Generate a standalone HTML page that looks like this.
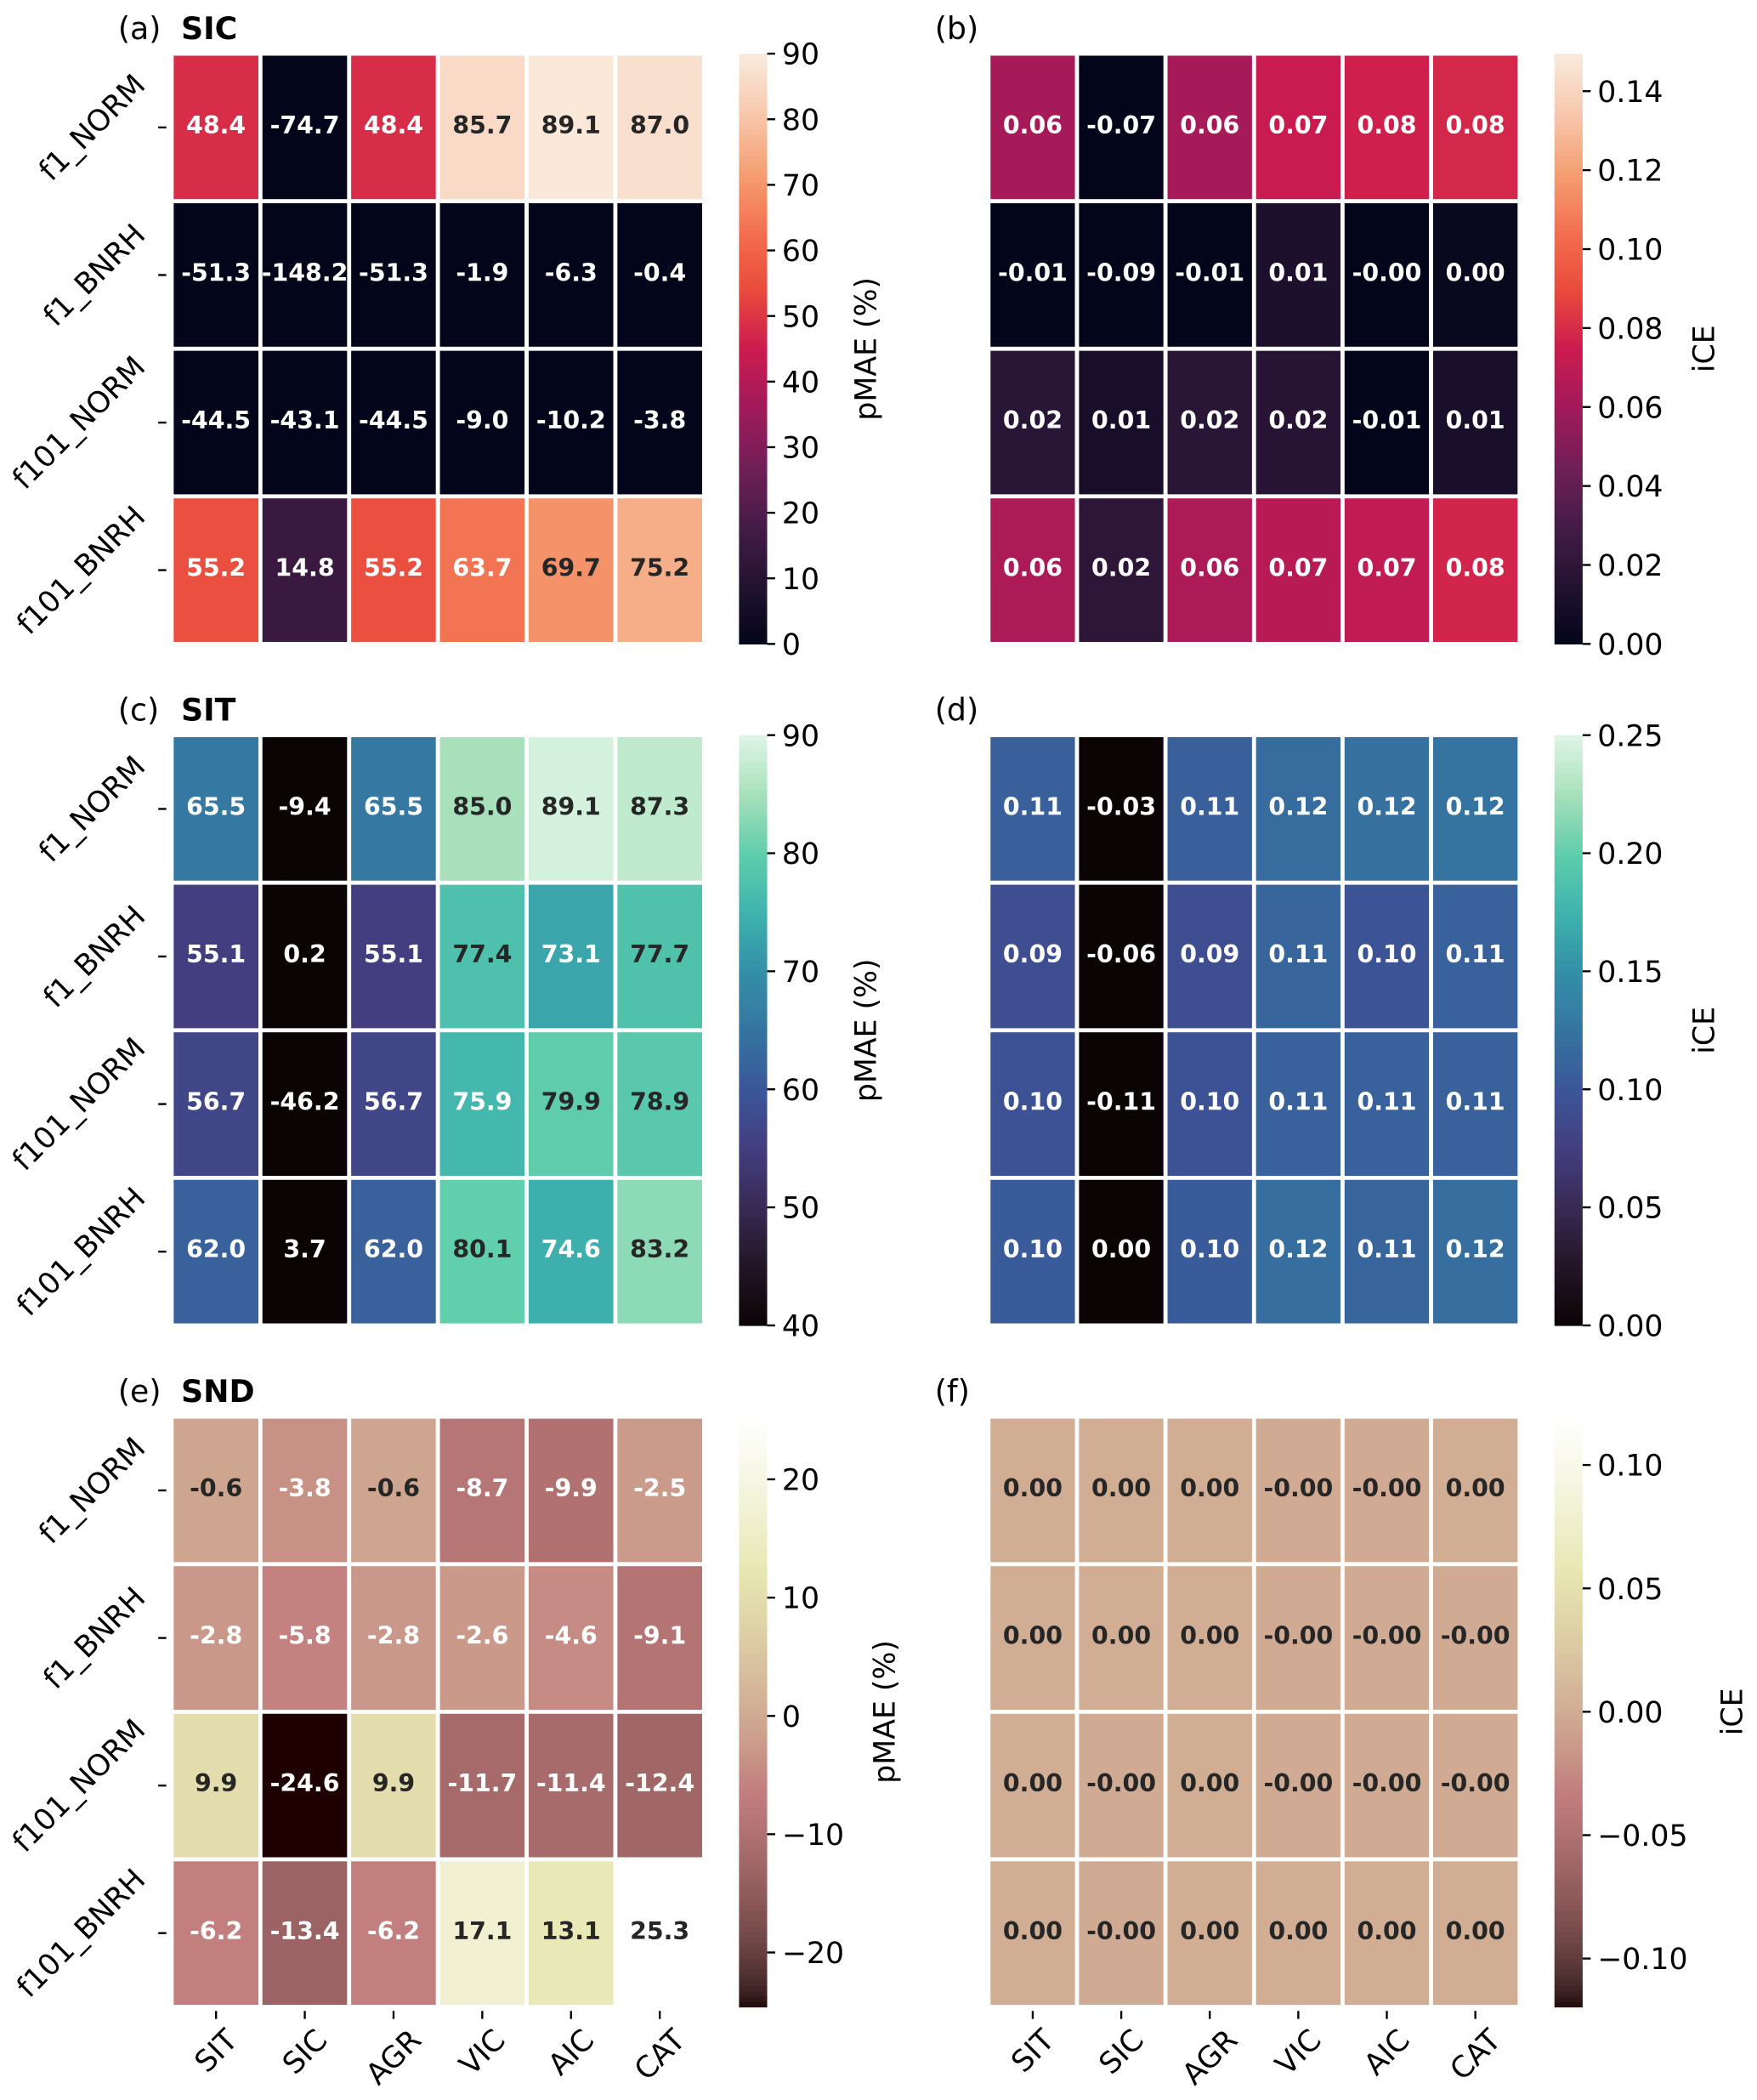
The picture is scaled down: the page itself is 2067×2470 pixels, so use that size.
<!DOCTYPE html>
<html><head><meta charset="utf-8">
<style>
html,body{margin:0;padding:0;background:#fff;}
svg{display:block;font-family:"DejaVu Sans","Liberation Sans",sans-serif;}
</style></head>
<body>
<svg id="fig" width="2067" height="2470" viewBox="0 0 1310 1565.4" xmlns="http://www.w3.org/2000/svg"></svg>
<script>
const rowLabels = ["f1_NORM","f1_BNRH","f101_NORM","f101_BNRH"];
const colLabels = ["SIT","SIC","AGR","VIC","AIC","CAT"];
const valsA = [[48.4,-74.7,48.4,85.7,89.1,87.0],[-51.3,-148.2,-51.3,-1.9,-6.3,-0.4],[-44.5,-43.1,-44.5,-9.0,-10.2,-3.8],[55.2,14.8,55.2,63.7,69.7,75.2]];
const valsB = [[0.062,-0.07,0.062,0.074,0.076,0.079],[-0.01,-0.09,-0.01,0.012,-0.004,0.003],[0.018,0.01,0.018,0.017,-0.01,0.011],[0.064,0.02,0.064,0.068,0.071,0.078]];
const valsC = [[65.5,-9.4,65.5,85.0,89.1,87.3],[55.1,0.2,55.1,77.4,73.1,77.7],[56.7,-46.2,56.7,75.9,79.9,78.9],[62.0,3.7,62.0,80.1,74.6,83.2]];
const valsD = [[0.108,-0.03,0.108,0.118,0.122,0.124],[0.092,-0.06,0.092,0.112,0.098,0.11],[0.096,-0.11,0.096,0.11,0.11,0.11],[0.104,0.0,0.104,0.12,0.112,0.12]];
const valsE = [[-0.6,-3.8,-0.6,-8.7,-9.9,-2.5],[-2.8,-5.8,-2.8,-2.6,-4.6,-9.1],[9.9,-24.6,9.9,-11.7,-11.4,-12.4],[-6.2,-13.4,-6.2,17.1,13.1,25.3]];
const valsF = [[0.001,0.001,0.001,-0.001,-0.001,0.001],[0.001,0.001,0.001,-0.001,-0.001,-0.001],[0.001,-0.001,0.001,-0.001,-0.001,-0.001],[0.001,-0.001,0.001,0.001,0.001,0.001]];
const ticksA = [0,10,20,30,40,50,60,70,80,90];
const ticksB = [0,0.02,0.04,0.06,0.08,0.10,0.12,0.14];
const ticksC = [40,50,60,70,80,90];
const ticksD = [0,0.05,0.10,0.15,0.20,0.25];
const ticksE = [-20,-10,0,10,20];
const ticksF = [-0.10,-0.05,0,0.05,0.10];

const NS="http://www.w3.org/2000/svg";
const svg=document.getElementById('fig');
function hex(h){return [parseInt(h.slice(1,3),16),parseInt(h.slice(3,5),16),parseInt(h.slice(5,7),16)];}
function mkStops(list){return list.map(s=>[s[0],hex(s[1])]);}
const rocket=mkStops([[0,"#03051a"],[0.1,"#221331"],[0.2,"#451c47"],[0.3,"#701f57"],[0.4,"#a11a5b"],[0.5,"#cb1b4f"],[0.6,"#ea4a3c"],[0.7,"#f3704f"],[0.8,"#f59f73"],[0.9,"#f7c8ad"],[1,"#faebdd"]]);
const mako=mkStops([[0,"#0b0405"],[0.1,"#231526"],[0.2,"#382a54"],[0.3,"#433e80"],[0.4,"#3b5698"],[0.5,"#3575a1"],[0.6,"#348fa7"],[0.7,"#3eb3ad"],[0.8,"#60ceac"],[0.9,"#a7e0bb"],[1,"#def5e5"]]);
function interp(stops,t){t=Math.max(0,Math.min(1,t));for(let i=1;i<stops.length;i++){if(t<=stops[i][0]){const a=stops[i-1],b=stops[i];const f=(t-a[0])/(b[0]-a[0]);return a[1].map((v,k)=>v+(b[1][k]-v)*f);}}return stops[stops.length-1][1];}
function pink(t){t=Math.max(0,Math.min(1,t));const cl=x=>Math.max(0,Math.min(1,x));const hr=cl(0.0416+t/0.365),hg=cl((t-0.365)/(0.381)),hb=cl((t-0.746)/0.254);return [hr,hg,hb].map(h=>255*Math.sqrt(2/3*t+1/3*h));}
function cmapFn(name){return name==='pink'?pink:(t=>interp(name==='rocket'?rocket:mako,t));}
function rgb(c){return 'rgb('+c.map(v=>Math.round(v)).join(',')+')';}
function lum(c){const l=c.map(v=>{v/=255;return v<=0.03928?v/12.92:Math.pow((v+0.055)/1.055,2.4);});return 0.2126*l[0]+0.7152*l[1]+0.0722*l[2];}
function el(tag,attrs,parent){const e=document.createElementNS(NS,tag);for(const k in attrs)e.setAttribute(k,attrs[k]);(parent||svg).appendChild(e);return e;}

function panel(o){
  const g=el('g',{});
  
  
  const cf=cmapFn(o.cmap);
  const W=o.w/6,H=440/4;
  const ys=v=>o.y+440-(v-o.vmin)/(o.vmax-o.vmin)*440;
  const t=el('text',{x:o.x-40,y:o.y-11,'font-size':23,fill:'#000'},g);
  
  
  t.textContent='('+o.id+')';
  if(o.title){const tt=el('text',{x:o.x+7,y:o.y-11,'font-size':23,'font-weight':'bold',fill:'#000'},g);
    
    
    tt.textContent=o.title;}
  for(let r=0;r<4;r++)for(let c=0;c<6;c++){
    const v=o.vals[r][c];const col=cf((v-o.vmin)/(o.vmax-o.vmin));
    const rect=el('rect',{x:o.x+c*W,y:o.y+r*H,width:W,height:H,fill:rgb(col),stroke:'#fff','stroke-width':3},g);
    
    
    const tx=el('text',{x:o.x+(c+0.5)*W,y:o.y+(r+0.5)*H+4.5,'font-size':18,'font-weight':'bold','text-anchor':'middle',fill:lum(col)>0.408?'#262626':'#ffffff'},g);
    
    
    tx.textContent=v.toFixed(o.dec);
  }
  if(o.ylab){for(let r=0;r<4;r++){const cy=o.y+(r+0.5)*H;
    el('line',{x1:o.x-10,x2:o.x-4,y1:cy,y2:cy,stroke:'#000','stroke-width':1.5},g);
    const tx=el('text',{'font-size':22,'text-anchor':'middle',fill:'#000'},g);
    
    
    tx.textContent=rowLabels[r];
    const L=tx.getComputedTextLength();const mx=o.x-16-(L+22)*0.3535;
    tx.setAttribute('x',mx);tx.setAttribute('y',cy+7.5);tx.setAttribute('transform','rotate(-45 '+mx+' '+cy+')');}}
  if(o.xlab){for(let c=0;c<6;c++){const cx=o.x+(c+0.5)*W;
    el('line',{x1:cx,x2:cx,y1:o.y+443,y2:o.y+449,stroke:'#000','stroke-width':1.5},g);
    const tx=el('text',{'font-size':22,'text-anchor':'middle',fill:'#000'},g);
    
    
    tx.textContent=colLabels[c];
    const L=tx.getComputedTextLength();const my=o.y+453+(L+22)*0.3535;
    tx.setAttribute('x',cx);tx.setAttribute('y',my+7.5);tx.setAttribute('transform','rotate(-45 '+cx+' '+my+')');}}
  const cb=el('g',{},g);
  
  
  const N=110;
  for(let i=0;i<N;i++){const c=cf((i+0.5)/N);el('rect',{x:o.cbx,y:o.y+440-(i+1)*4,width:21,height:4.4,fill:rgb(c)},cb);}
  for(const tk of o.ticks){const yy=ys(tk);
    el('line',{x1:o.cbx+21,x2:o.cbx+27,y1:yy,y2:yy,stroke:'#000','stroke-width':1.5},cb);
    const tx=el('text',{x:o.cbx+32,y:yy+8,'font-size':22,fill:'#000'},cb);
    
    
    tx.textContent=(tk<0?'\u2212':'')+Math.abs(tk).toFixed(o.tdec);}
  const lx=o.cbx+o.lblOff,ly=o.y+220;
  const lb=el('text',{x:lx,y:ly,'font-size':22,'text-anchor':'middle',fill:'#000',transform:'rotate(-90 '+lx+' '+ly+')'},cb);
  
  
  lb.textContent=o.cblabel;
}
const LX=128,RX=737;
panel({id:'a',title:'SIC',x:LX,y:40,w:397,vals:valsA,cmap:'rocket',vmin:0,vmax:90,dec:1,ticks:ticksA,tdec:0,cbx:551,cblabel:'pMAE (%)',lblOff:102,ylab:true,xlab:false});
panel({id:'b',x:RX,y:40,w:396,vals:valsB,cmap:'rocket',vmin:0,vmax:0.1495,dec:2,ticks:ticksB,tdec:2,cbx:1159,cblabel:'iCE',lblOff:119,ylab:false,xlab:false});
panel({id:'c',title:'SIT',x:LX,y:548,w:397,vals:valsC,cmap:'mako',vmin:40,vmax:90,dec:1,ticks:ticksC,tdec:0,cbx:551,cblabel:'pMAE (%)',lblOff:102,ylab:true,xlab:false});
panel({id:'d',x:RX,y:548,w:396,vals:valsD,cmap:'mako',vmin:0,vmax:0.25,dec:2,ticks:ticksD,tdec:2,cbx:1159,cblabel:'iCE',lblOff:119,ylab:false,xlab:false});
panel({id:'e',title:'SND',x:LX,y:1056,w:397,vals:valsE,cmap:'pink',vmin:-24.6,vmax:25.3,dec:1,ticks:ticksE,tdec:0,cbx:551,cblabel:'pMAE (%)',lblOff:116,ylab:true,xlab:true});
panel({id:'f',x:RX,y:1056,w:396,vals:valsF,cmap:'pink',vmin:-0.1196,vmax:0.1196,dec:2,ticks:ticksF,tdec:2,cbx:1159,cblabel:'iCE',lblOff:140,ylab:false,xlab:true});
</script>
</body></html>
